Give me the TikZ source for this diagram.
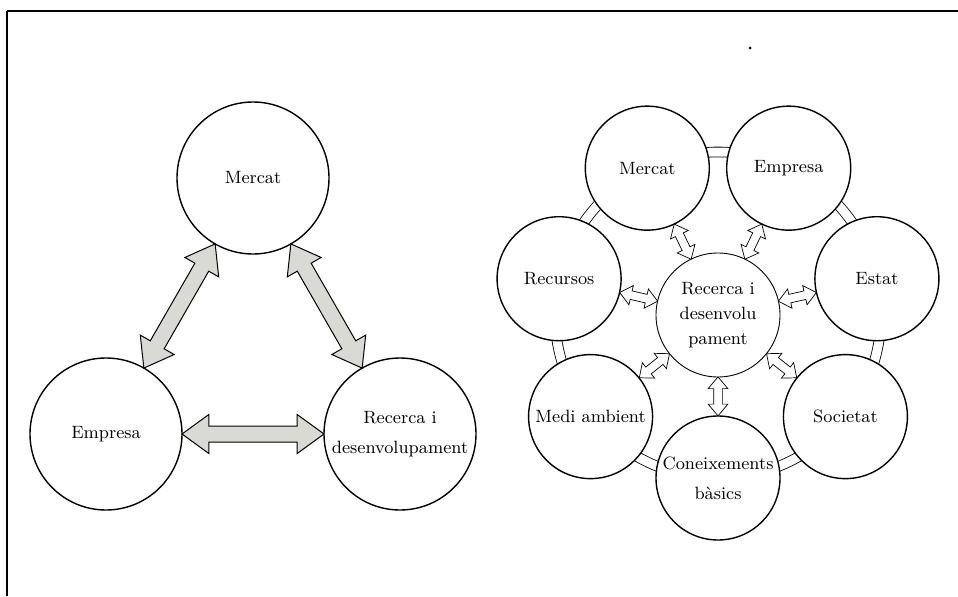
\documentclass[tikz,border=0pt]{standalone}
\usetikzlibrary{positioning,calc,shapes.arrows}

\definecolor{arrowgray}{RGB}{218,218,212}

% two-headed arrow node that fills the gap between two round nodes
\newcommand\twoway[4]{%
   \path let \p1=(#2), \p2=(#3), \n1={veclen(\x2-\x1,\y2-\y1)-2*#4} in
      (#2) -- (#3) node[#1, midway, sloped, minimum height=\n1] {};}

\begin{document}
\begin{tikzpicture}[x=0.5pt, y=0.5pt,
         every node/.style = {font=\fontsize{8.9}{15}\selectfont, align=center},
         bigcircle/.style = {circle, draw, line width=0.7pt, fill=white,
            minimum size=76pt, inner sep=0pt},
         smallcircle/.style = {circle, draw, line width=0.7pt, fill=white,
            minimum size=62pt, inner sep=0pt},
         midcircle/.style = {smallcircle, line width=0.45pt},
         widearrow/.style = {double arrow, draw, line width=0.5pt, fill=arrowgray,
            inner sep=3.75pt, double arrow head extend=5.75pt,
            double arrow tip angle=72},
         thinarrow/.style = {double arrow, draw, line width=0.35pt, fill=white,
            inner sep=2pt, double arrow head extend=2.75pt,
            double arrow tip angle=80},
         ring/.style = {draw, line width=0.4pt, double=white, double distance=4.5pt}
]
      \useasboundingbox (0,0) rectangle (958,596);

      % frame
      \draw[line width=1pt] (7,585) -- (958,585);
      \draw[line width=0.6pt] (7,585) -- (7,0);
      \fill (750,548) circle (1.5);

      % left triangle
      \node[bigcircle]                                 (mer) at (253,418) {Mercat};
      \node[bigcircle, on grid, below left=128pt and 73.5pt of mer]  (emp) {Empresa};
      \node[bigcircle, on grid, below right=128pt and 73.5pt of mer] (rid)
         {Recerca i\\desenvolupament};

      \twoway{widearrow}{mer}{emp}{38pt}
      \twoway{widearrow}{mer}{rid}{38pt}
      \twoway{widearrow}{emp}{rid}{38pt}

      % right wheel
      \coordinate (hub) at (718,281);
      \draw[ring] (hub) circle (163);

      \node[midcircle, font=\fontsize{8.9}{12.5}\selectfont] (rd) at (hub)
         {Recerca i\\desenvolu\\pament};
      \node[smallcircle] (rcon) at ($(hub)+(270:163)$)    {Coneixements\\b\`asics};
      \node[smallcircle] (rsoc) at ($(hub)+(321.43:163)$) {Societat};
      \node[smallcircle] (rest) at ($(hub)+(12.86:163)$)  {Estat};
      \node[smallcircle] (remp) at ($(hub)+(64.29:163)$)  {Empresa};
      \node[smallcircle] (rmer) at ($(hub)+(115.71:163)$) {Mercat};
      \node[smallcircle] (rrec) at ($(hub)+(167.14:163)$) {Recursos};
      \node[smallcircle] (rmed) at ($(hub)+(218.57:163)$) {Medi ambient};

      \twoway{thinarrow}{rd}{rcon}{31pt}
      \twoway{thinarrow}{rd}{rsoc}{31pt}
      \twoway{thinarrow}{rd}{rest}{31pt}
      \twoway{thinarrow}{rd}{remp}{31pt}
      \twoway{thinarrow}{rd}{rmer}{31pt}
      \twoway{thinarrow}{rd}{rrec}{31pt}
      \twoway{thinarrow}{rd}{rmed}{31pt}
\end{tikzpicture}
\end{document}
